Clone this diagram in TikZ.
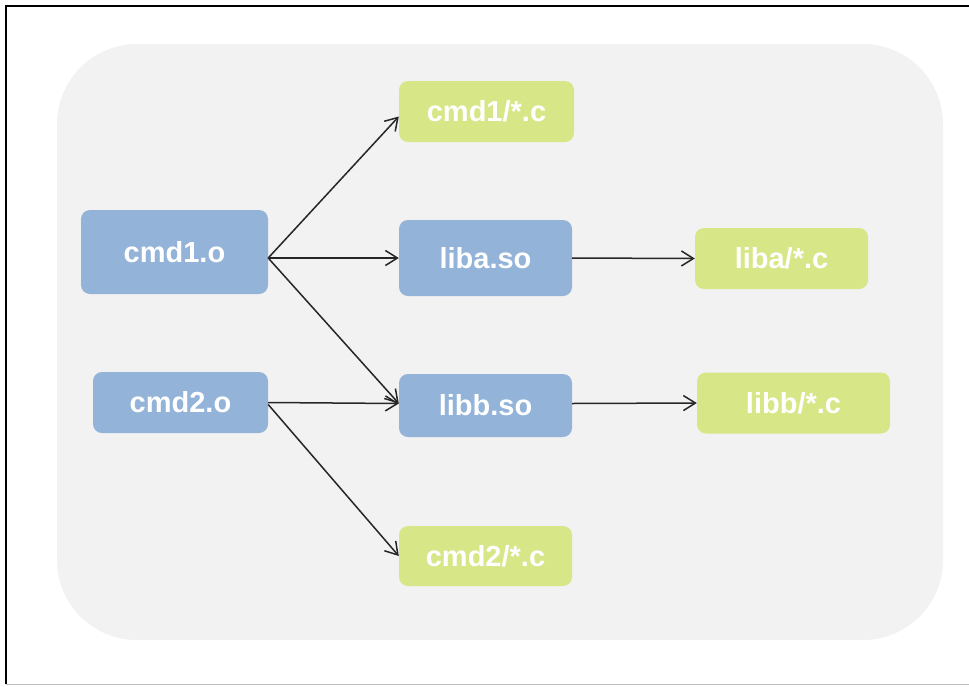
\documentclass[tikz,border=0pt]{standalone}
\usepackage{fontspec}
\setmainfont{Liberation Sans}
\usetikzlibrary{arrows.meta}
\definecolor{objblue}{HTML}{93B3D9}
\definecolor{srcgreen}{HTML}{D7E788}
\definecolor{panelgray}{HTML}{F2F2F2}
\begin{document}
\begin{tikzpicture}[x=1pt,y=-1pt,
  blk/.style={rounded corners=9pt, text=white, inner sep=0pt,
    font=\fontsize{29}{32}\selectfont\bfseries},
  obj/.style={blk, fill=objblue},
  src/.style={blk, fill=srcgreen},
  dep/.style={-{Straight Barb[length=12pt,width=15pt]}, line width=1.5pt, black!85}]

 \useasboundingbox (0,0) rectangle (969,686);
 \fill[panelgray, rounded corners=80pt] (57,44) rectangle (943,640); % panel
 \draw[line width=2pt] (6,684) -- (6,6) -- (969,6); % frame
 \draw[black!25, line width=1.5pt] (6,684.5) -- (969,684.5);

 \node[obj, minimum width=187pt, minimum height=84pt] (cmd1) at (174.5,252) {cmd1.o};
 \node[obj, minimum width=175pt, minimum height=61pt] (cmd2) at (180.5,402.5) {cmd2.o};
 \node[src, minimum width=175pt, minimum height=61pt] (cmd1c) at (486.5,111.5) {cmd1/*.c};
 \node[obj, minimum width=173pt, minimum height=76pt] (liba) at (485.5,258) {liba.so};
 \node[obj, minimum width=173pt, minimum height=63pt] (libb) at (485.5,405.5) {libb.so};
 \node[src, minimum width=173pt, minimum height=60pt] (cmd2c) at (485.5,556) {cmd2/*.c};
 \node[src, minimum width=173pt, minimum height=61pt] (libac) at (781.5,258.5) {liba/*.c};
 \node[src, minimum width=193pt, minimum height=61pt] (libbc) at (793.5,403) {libb/*.c};

 \draw[dep] ([yshift=-6pt]cmd1.east) -- ([yshift=-5pt]cmd1c.west); % cmd1.o needs
 \draw[dep] ([yshift=-6pt]cmd1.east) -- (liba.west);
 \draw[dep] ([yshift=-6pt]cmd1.east) -- ([yshift=2pt]libb.west);
 \draw[dep] (cmd2.east) -- ([yshift=2pt]libb.west); % cmd2.o needs
 \draw[dep] ([yshift=-2pt]cmd2.east) -- (cmd2c.west);
 \draw[dep] (liba.east) -- (libac.west); % libs built from sources
 \draw[dep] ([yshift=2pt]libb.east) -- (libbc.west);

\end{tikzpicture}
\end{document}
